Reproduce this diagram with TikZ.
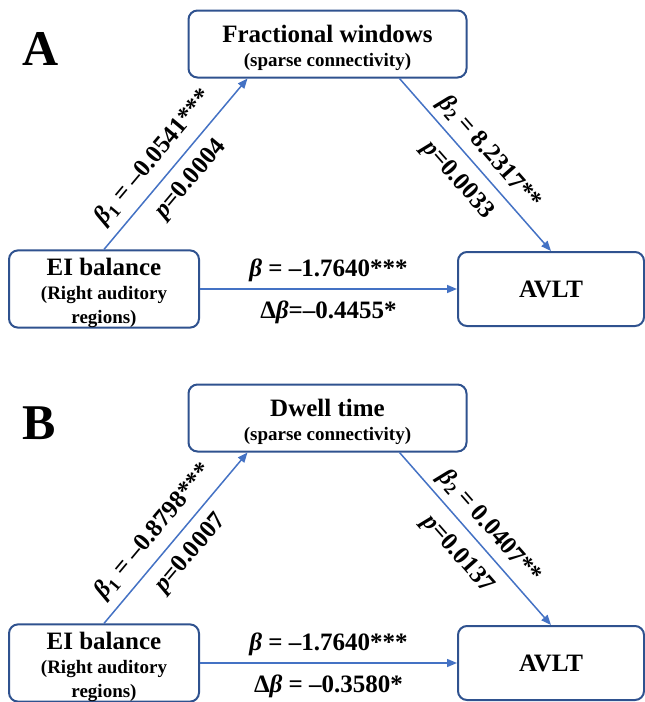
\documentclass[tikz,border=0pt]{standalone}
\usepackage{fontspec}
\setmainfont{Liberation Serif}
\usetikzlibrary{arrows.meta}

\definecolor{boxblue}{RGB}{47,82,143}
\definecolor{pathblue}{RGB}{68,114,196}

\newcommand{\bb}{\textit{β}}
\newcommand{\subtxt}[1]{{\fontsize{19}{24}\selectfont #1}}

\tikzset{
  varbox/.style={draw=boxblue, line width=2pt, rounded corners=9pt, align=center,
    inner sep=0pt, font=\fontsize{25}{24}\selectfont\bfseries},
  effect/.style={draw=pathblue, line width=1.5pt, -{Triangle[length=10pt,width=8pt]}},
  coef/.style={inner sep=0pt, font=\fontsize{25}{25}\selectfont\bfseries},
  tag/.style={inner sep=0pt, anchor=base west, font=\fontsize{50}{50}\selectfont\bfseries}
}

\begin{document}
\begin{tikzpicture}[x=1pt, y=-1pt]
  \useasboundingbox (0,0) rectangle (645,702);

  \foreach \pan/\dy/\med/\bone/\pone/\btwo/\ptwo/\dbeta in
    {A/0/Fractional windows/–0.0541/0.0004/8.2317/0.0033/{Δ\bb=–0.4455*},
     B/374/Dwell time/–0.8798/0.0007/0.0407/0.0137/{Δ\bb\ = –0.3580*}}
  {
    \node[tag] (tag\pan) at (22, 65+\dy) {\pan};

    \node[varbox, minimum width=278pt, minimum height=67pt] (med\pan) at (327.5, 44+\dy)
      {\rule{0pt}{25pt}\med\\\subtxt{(sparse connectivity)}};
    \node[varbox, minimum width=190pt, minimum height=74pt] (ei\pan) at (104, 289+\dy)
      {\rule{0pt}{25pt}EI balance\\\subtxt{(Right auditory}\\\subtxt{regions)}};
    \node[varbox, minimum width=186pt, minimum height=74pt] (avlt\pan) at (551, 289+\dy)
      {AVLT};

    \draw[effect] (ei\pan.north) -- ([xshift=-80pt]med\pan.south)
      node[coef, pos=0.46, sloped, above=8.5pt] (bone\pan) {\bb\textsubscript{1} = \bone***}
      node[coef, pos=0.49, sloped, below=10.2pt] (pone\pan) {\textit{p}=\pone};
    \draw[effect] ([xshift=72pt]med\pan.south) -- (avlt\pan.north)
      node[coef, pos=0.5, sloped, above=6.2pt] (btwo\pan) {\bb\textsubscript{2} = \btwo**}
      node[coef, pos=0.5, sloped, below=11.8pt] (ptwo\pan) {\textit{p}=\ptwo};
    \draw[effect] (ei\pan.east) -- (avlt\pan.west)
      node[coef, midway, above=6.8pt] (beta\pan) {\bb\ = –1.7640***}
      node[coef, midway, below=10.7pt] (dbeta\pan) {\dbeta};
  }
\end{tikzpicture}
\end{document}
